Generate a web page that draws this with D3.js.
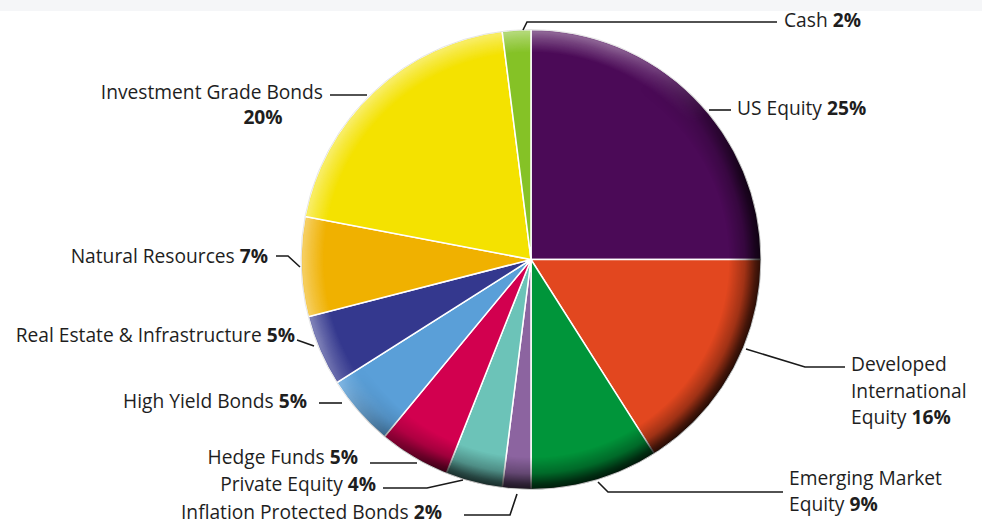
<!DOCTYPE html>
<html><head><meta charset="utf-8">
<script src="https://cdn.jsdelivr.net/npm/d3@7"></script>
<style>
html,body{margin:0;padding:0;background:#fff;}
svg{display:block;}
text{font-family:"Open Sans","Noto Sans",sans-serif;fill:#1e1e1e;}
</style></head>
<body>
<script>
// ---- data ----
const categories = ["US Equity","Developed International Equity","Emerging Market Equity","Inflation Protected Bonds","Private Equity","Hedge Funds","High Yield Bonds","Real Estate & Infrastructure","Natural Resources","Investment Grade Bonds","Cash"];
const values = [25,16,9,2,4,5,5,5,7,20,2];
const colors = ["#4b0a57","#e2471f","#00953a","#8c64a0","#6cc3b8","#d2004f","#5a9fd8","#34388e","#f0b100","#f4e200","#85c226"];

// ---- layout (annotation geometry) ----
const W = 982, H = 523;
const cx = 531, cy = 259.5, R = 230;
const FS = 19.2;
const labelLayout = [
  {lines:[["US Equity ","25%"]], x:737, y:115, anchor:"start", path:[[709,110],[731,110]]},
  {lines:[["Developed",""],["International",""],["Equity ","16%"]], x:851, y:371, anchor:"start", dy:26.5, path:[[746,349],[805,367],[845,367]]},
  {lines:[["Emerging Market",""],["Equity ","9%"]], x:789, y:485, anchor:"start", dy:26, path:[[598,482],[608,492],[783,492]]},
  {lines:[["Inflation Protected Bonds ","2%"]], x:442, y:519, anchor:"end", path:[[517,494],[510,515],[464,515]]},
  {lines:[["Private Equity ","4%"]], x:376, y:491, anchor:"end", path:[[463,480],[427,488],[383,488]]},
  {lines:[["Hedge Funds ","5%"]], x:358, y:464, anchor:"end", path:[[417,463],[370,463]]},
  {lines:[["High Yield Bonds ","5%"]], x:307, y:408, anchor:"end", path:[[342,403],[319,403]]},
  {lines:[["Real Estate & Infrastructure ","5%"]], x:295, y:342, anchor:"end", path:[[314,346],[297,340]]},
  {lines:[["Natural Resources ","7%"]], x:268, y:263, anchor:"end", path:[[300,267],[288,256],[276,256]]},
  {lines:[["Investment Grade Bonds",""],["","20%"]], x:323, y:99, anchor:"end", dy:25, path:[[367,95],[330,95]], secondAnchor:"middle", secondX:263},
  {lines:[["Cash ","2%"]], x:784, y:27, anchor:"start", path:[[523,30],[527,22],[777,22]]}
];

const svg = d3.select("body").append("svg").attr("width",W).attr("height",H);
svg.append("rect").attr("x",0).attr("y",0).attr("width",W).attr("height",11).attr("fill","#f5f6f8");

const defs = svg.append("defs");
const shade = defs.append("radialGradient").attr("id","shade").attr("gradientUnits","userSpaceOnUse")
  .attr("cx",cx).attr("cy",cy).attr("r",R);
[[0,0],[0.86,0],[0.93,0.3],[0.975,0.7],[1,0.85]].forEach(([o,a])=>shade.append("stop").attr("offset",o).attr("stop-color","#000").attr("stop-opacity",a));
const hl = defs.append("radialGradient").attr("id","hl").attr("gradientUnits","userSpaceOnUse")
  .attr("cx",cx).attr("cy",cy).attr("r",R);
[[0,0],[0.9,0],[0.96,0.25],[0.99,0.4],[1,0.3]].forEach(([o,a])=>hl.append("stop").attr("offset",o).attr("stop-color","#fff").attr("stop-opacity",a));
const mg1 = defs.append("linearGradient").attr("id","mg1").attr("gradientUnits","userSpaceOnUse")
  .attr("x1",cx-R*0.7).attr("y1",cy-R*0.7).attr("x2",cx+R*0.7).attr("y2",cy+R*0.7);
[[0,0],[0.4,0],[0.7,0.9],[1,1]].forEach(([o,a])=>mg1.append("stop").attr("offset",o).attr("stop-color","#fff").attr("stop-opacity",a));
const mg2 = defs.append("linearGradient").attr("id","mg2").attr("gradientUnits","userSpaceOnUse")
  .attr("x1",cx-R*0.7).attr("y1",cy-R*0.7).attr("x2",cx+R*0.7).attr("y2",cy+R*0.7);
[[0,1],[0.3,0.9],[0.55,0],[1,0]].forEach(([o,a])=>mg2.append("stop").attr("offset",o).attr("stop-color","#fff").attr("stop-opacity",a));
defs.append("mask").attr("id","m1").append("rect").attr("width",W).attr("height",H).attr("fill","url(#mg1)");
defs.append("mask").attr("id","m2").append("rect").attr("width",W).attr("height",H).attr("fill","url(#mg2)");

const data = categories.map((c,i)=>({name:c,value:values[i],color:colors[i]}));
const pie = d3.pie().value(d=>d.value).sort(null);
const arc = d3.arc().innerRadius(0).outerRadius(R);
const g = svg.append("g").attr("transform",`translate(${cx},${cy})`);
g.selectAll("path.slice").data(pie(data)).join("path").attr("class","slice")
  .attr("d",arc).attr("fill",d=>d.data.color).attr("stroke","#fff").attr("stroke-width",1.5);

svg.append("circle").attr("cx",cx).attr("cy",cy).attr("r",R).attr("fill","url(#shade)").attr("mask","url(#m1)");
svg.append("circle").attr("cx",cx).attr("cy",cy).attr("r",R).attr("fill","url(#hl)").attr("mask","url(#m2)");
svg.append("circle").attr("cx",cx).attr("cy",cy).attr("r",R).attr("fill","none").attr("stroke","#ddd").attr("stroke-width",0.8);

const line = d3.line();
labelLayout.forEach((L)=>{
  svg.append("path").attr("d",line(L.path)).attr("fill","none").attr("stroke","#1a1a1a").attr("stroke-width",1.6);
  L.lines.forEach((pair,j)=>{
    const anchor = (j===1 && L.secondAnchor) ? L.secondAnchor : L.anchor;
    const x = (j===1 && L.secondX) ? L.secondX : L.x;
    const t = svg.append("text").attr("x",x).attr("y",L.y + j*(L.dy||0)).attr("text-anchor",anchor).attr("font-size",FS);
    if(pair[0]) t.append("tspan").text(pair[0]);
    if(pair[1]) t.append("tspan").attr("font-weight","bold").text(pair[1]);
  });
});
</script>
</body></html>
